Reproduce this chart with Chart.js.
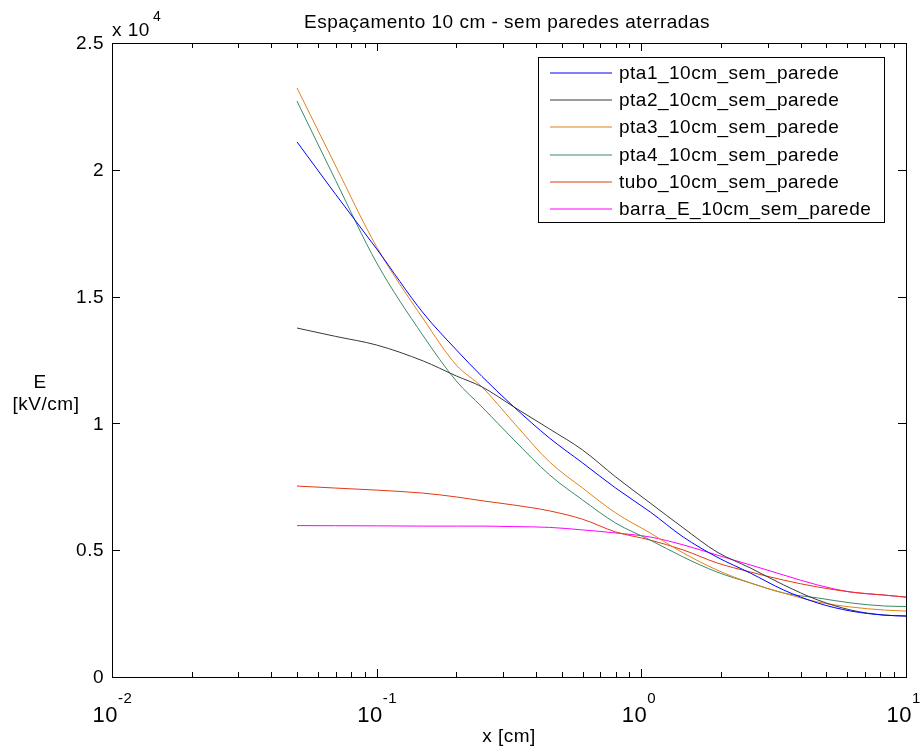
<!DOCTYPE html>
<html>
<head>
<meta charset="utf-8">
<script src="https://cdn.jsdelivr.net/npm/chart.js@4"></script>
<style>
  body { margin: 0; background: #fff; }
  canvas { display: block; }
</style>
</head>
<body>
<canvas id="grafico" width="920" height="749"></canvas>
<script>
// posições x [cm] (eixo log)
const posX = [0.05, 0.07, 0.1, 0.15, 0.2, 0.25, 0.33, 0.45, 0.6, 0.8, 1.08, 1.44, 1.93, 2.58, 3.45, 4.63, 6.19, 8.28, 10];

// campo E [kV/cm]
const pta1 = [21100, 19030, 16880, 14350, 12900, 11850, 10650, 9420, 8440, 7450, 6510, 5520, 4730, 4100, 3430, 2920, 2600, 2440, 2400];
const pta2 = [13760, 13430, 13090, 12460, 11870, 11440, 10650, 9780, 8950, 7890, 6860, 5880, 4930, 4300, 3630, 3040, 2640, 2440, 2410];
const pta3 = [23230, 20150, 16960, 14120, 12300, 11440, 10020, 8480, 7450, 6470, 5680, 4890, 4220, 3710, 3310, 2960, 2760, 2640, 2600];
const pta4 = [22710, 19580, 16330, 13450, 11670, 10650, 9350, 7970, 6980, 6070, 5400, 4730, 4140, 3710, 3310, 3120, 2920, 2800, 2780];
const tubo = [7530, 7450, 7370, 7250, 7100, 6950, 6780, 6550, 6220, 5720, 5400, 5010, 4500, 4140, 3820, 3550, 3350, 3230, 3150];
const barraE = [5970, 5965, 5960, 5950, 5950, 5950, 5930, 5900, 5800, 5680, 5520, 5210, 4810, 4420, 4020, 3630, 3350, 3230, 3150];

const nomes = ['pta1_10cm_sem_parede', 'pta2_10cm_sem_parede', 'pta3_10cm_sem_parede',
               'pta4_10cm_sem_parede', 'tubo_10cm_sem_parede', 'barra_E_10cm_sem_parede'];
const cores = ['#0000ff', '#3a3a3a', '#e0821e', '#3a8a63', '#e03a14', '#ff00ff'];
const series = [pta1, pta2, pta3, pta4, tubo, barraE];

const ticksY = [0, 5000, 10000, 15000, 20000, 25000];
const rotulosY = ['0', '0.5', '1', '1.5', '2', '2.5'];
const decadas = [-2, -1, 0, 1];

const FONTE = '"Liberation Sans", Arial, Helvetica, sans-serif';

function fonte(ctx, px) {
    ctx.font = px + 'px ' + FONTE;
    ctx.letterSpacing = '0.5px';
}

// eixos estilo MATLAB: caixa, marcas para dentro, rótulos com expoente
const eixosMatlab = {
    id: 'eixosMatlab',
    afterDraw(chart) {
        const ctx = chart.ctx;
        const a = chart.chartArea;
        const sx = chart.scales.x, sy = chart.scales.y;
        ctx.save();
        ctx.strokeStyle = '#000';
        ctx.fillStyle = '#000';
        ctx.lineWidth = 1;

        // caixa
        ctx.strokeRect(Math.round(a.left) + 0.5, Math.round(a.top) + 0.5,
                       Math.round(a.right - a.left), Math.round(a.bottom - a.top));

        ctx.beginPath();
        // marcas do eixo y (esquerda e direita)
        ticksY.forEach(v => {
            const y = Math.round(sy.getPixelForValue(v)) + 0.5;
            ctx.moveTo(a.left, y); ctx.lineTo(a.left + 8, y);
            ctx.moveTo(a.right, y); ctx.lineTo(a.right - 8, y);
        });
        // marcas do eixo x (log, maiores e menores)
        decadas.forEach(d => {
            for (let m = 1; m <= 9; m++) {
                const v = m * Math.pow(10, d);
                if (v < sx.min || v > sx.max) continue;
                const x = Math.round(sx.getPixelForValue(v)) + 0.5;
                const len = m === 1 ? 8 : 5;
                ctx.moveTo(x, a.bottom); ctx.lineTo(x, a.bottom - len);
                ctx.moveTo(x, a.top); ctx.lineTo(x, a.top + len);
            }
        });
        ctx.stroke();

        // rótulos y
        fonte(ctx, 19);
        ctx.textAlign = 'right';
        ctx.textBaseline = 'middle';
        ticksY.forEach((v, i) => {
            ctx.fillText(rotulosY[i], a.left - 8, sy.getPixelForValue(v) + 1);
        });

        // multiplicador x 10^4
        ctx.textAlign = 'left';
        ctx.textBaseline = 'alphabetic';
        ctx.fillText('x 10', a.left, a.top - 7);
        const w = ctx.measureText('x 10').width;
        fonte(ctx, 14);
        ctx.fillText('4', a.left + w + 3, a.top - 22);

        // rótulos x: 10^d
        decadas.forEach(d => {
            const x = sx.getPixelForValue(Math.pow(10, d));
            fonte(ctx, 22);
            ctx.textAlign = 'right';
            ctx.fillText('10', x + 6, a.bottom + 45);
            fonte(ctx, 15);
            ctx.textAlign = 'left';
            ctx.fillText(String(d), x + 6, a.bottom + 26);
        });

        // título e rótulos dos eixos
        fonte(ctx, 19);
        ctx.textAlign = 'center';
        ctx.fillText('Espaçamento 10 cm - sem paredes aterradas', (a.left + a.right) / 2 - 2, a.top - 15);
        ctx.fillText('x [cm]', (a.left + a.right) / 2, a.bottom + 65);
        ctx.fillText('E', 40, 388);
        ctx.fillText('[kV/cm]', 46, 410);

        // legenda
        const lx = 538, ly = 57, lw = 346, lh = 165;
        ctx.fillStyle = '#fff';
        ctx.fillRect(lx, ly, lw, lh);
        ctx.strokeStyle = '#000';
        ctx.strokeRect(lx + 0.5, ly + 0.5, lw, lh);
        nomes.forEach((nome, i) => {
            const y = Math.round(73 + i * 27.2);
            ctx.strokeStyle = cores[i];
            ctx.lineWidth = 1;
            ctx.beginPath();
            ctx.moveTo(550, y);
            ctx.lineTo(612, y);
            ctx.stroke();
            ctx.fillStyle = '#000';
            fonte(ctx, 19);
            ctx.textAlign = 'left';
            ctx.textBaseline = 'middle';
            ctx.fillText(nome, 619, y + 1);
        });
        ctx.restore();
    }
};

new Chart(document.getElementById('grafico'), {
    type: 'line',
    data: {
        datasets: series.map((s, i) => ({
            label: nomes[i],
            data: posX.map((x, k) => ({ x: x, y: s[k] })),
            borderColor: cores[i],
            borderWidth: 1,
            pointRadius: 0,
            cubicInterpolationMode: 'monotone',
            fill: false
        }))
    },
    options: {
        responsive: false,
        animation: false,
        devicePixelRatio: 1,
        layout: { padding: { left: 112, right: 14, top: 43, bottom: 72 } },
        plugins: { legend: { display: false }, tooltip: { enabled: false } },
        scales: {
            x: { type: 'logarithmic', min: 0.01, max: 10, display: false },
            y: { type: 'linear', min: 0, max: 25000, display: false }
        }
    },
    plugins: [eixosMatlab]
});
</script>
</body>
</html>
